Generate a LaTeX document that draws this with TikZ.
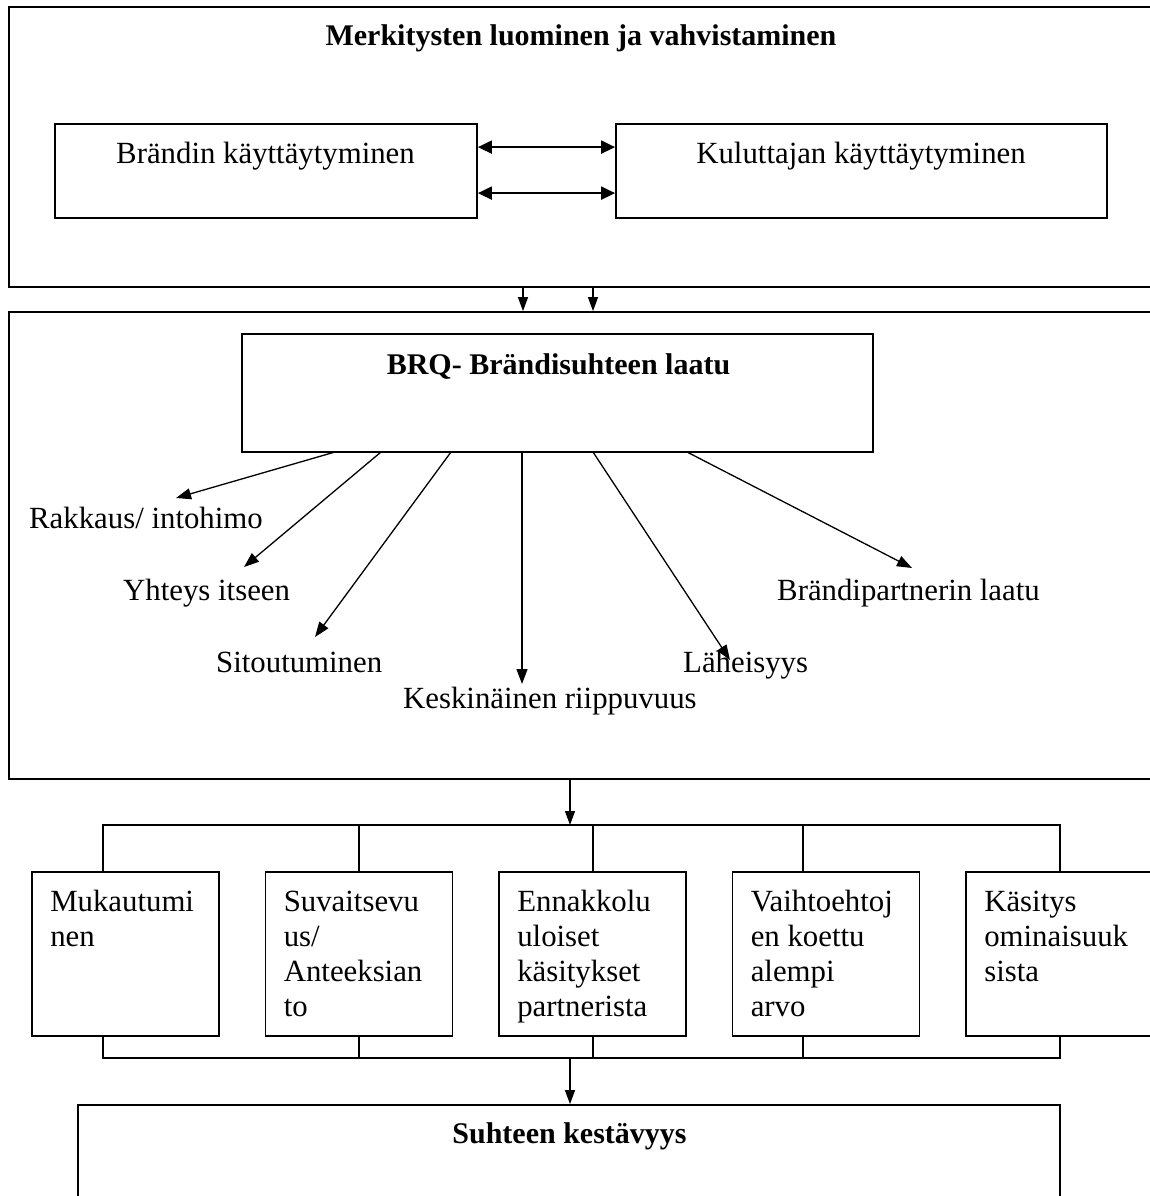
\documentclass[tikz,border=0pt]{standalone}
\usepackage{fontspec}
\setmainfont{Liberation Serif}
\usetikzlibrary{arrows.meta,calc}
\begin{document}
\begin{tikzpicture}[x=1pt,y=-1pt,
  box/.style={draw,line width=1.8pt,rectangle,inner sep=0pt},
  txt/.style={font=\fontsize{30.8}{35}\selectfont,inner sep=0pt},
  btxt/.style={font=\fontsize{30}{35}\selectfont\bfseries,inner sep=0pt},
  spoke/.style={line width=1.3pt,-{Triangle[length=15pt,width=11pt]}},
  dn/.style={line width=1.2pt,-{Triangle[length=14pt,width=10pt]}},
  dbl/.style={line width=2pt,{Triangle[length=14pt,width=13pt]}-{Triangle[length=14pt,width=13pt]}},
  bus/.style={line width=1.2pt}]
\useasboundingbox (0,0) rectangle (1150,1196);
\clip (0,0) rectangle (1150,1196);
\fill[white] (0,0) rectangle (1150,1196);
% outer boxes
\node[box,minimum width=1151pt,minimum height=280pt] (o1) at (584.5,147) {};
\node[box,minimum width=1151pt,minimum height=467pt] (o2) at (584.5,545.5) {};
\node[box,minimum width=422pt,minimum height=94pt] (b1) at (266,171) {};
\node[box,minimum width=491pt,minimum height=94pt] (b2) at (861.5,171) {};
\node[box,minimum width=631pt,minimum height=118pt] (brq) at (557.5,393) {};
\node[box,minimum width=982pt,minimum height=105pt] (fin) at (569,1157.5) {};
\foreach \k/\x in {k1/125.5,k2/359,k3/592.5,k4/826,k5/1059.5}
  \node[box,minimum width=187pt,minimum height=164pt] (\k) at (\x,954) {};
% titles
\node[btxt,anchor=base] (t1) at (581,46) {Merkitysten luominen ja vahvistaminen};
\node[txt,anchor=base] (tb1) at (265.5,163) {Brändin käyttäytyminen};
\node[txt,anchor=base] (tb2) at (861,163) {Kuluttajan käyttäytyminen};
\node[btxt,anchor=base] (tbrq) at (558.5,374) {BRQ- Brändisuhteen laatu};
\node[btxt,anchor=base] (tfin) at (569.5,1143) {Suhteen kestävyys};
% spoke labels
\node[txt,anchor=base west] (l1) at (29,528) {Rakkaus/ intohimo};
\node[txt,anchor=base west] (l2) at (123,600) {Yhteys itseen};
\node[txt,anchor=base west] (l3) at (216,672) {Sitoutuminen};
\node[txt,anchor=base west] (l4) at (403,708) {Keskinäinen riippuvuus};
\node[txt,anchor=base west] (l5) at (683,672) {Läheisyys};
\node[txt,anchor=base west] (l6) at (777,600) {Brändipartnerin laatu};
% box texts
\node[txt,align=left,anchor=north west] (x1) at ($(k1.north west)+(19,15.5)$) {\strut Mukautumi\\nen};
\node[txt,align=left,anchor=north west] (x2) at ($(k2.north west)+(19,15.5)$) {\strut Suvaitsevu\\us/\\Anteeksian\\to};
\node[txt,align=left,anchor=north west] (x3) at ($(k3.north west)+(19,15.5)$) {\strut Ennakkolu\\uloiset\\käsitykset\\partnerista};
\node[txt,align=left,anchor=north west] (x4) at ($(k4.north west)+(19,15.5)$) {\strut Vaihtoehtoj\\en koettu\\alempi\\arvo};
\node[txt,align=left,anchor=north west] (x5) at ($(k5.north west)+(19,15.5)$) {\strut Käsitys\\ominaisuuk\\sista};
% double arrows
\draw[dbl] ($(b1.north east)+(0,24)$) -- ($(b2.north west)+(0,24)$);
\draw[dbl] ($(b1.north east)+(0,70)$) -- ($(b2.north west)+(0,70)$);
% down arrows between outer boxes
\coordinate (xa) at (523,0);
\coordinate (xb) at (593,0);
\coordinate (xm) at (570,0);
\draw[dn] (o1.south -| xa) -- (o2.north -| xa);
\draw[dn] (o1.south -| xb) -- (o2.north -| xb);
% spokes
\coordinate (p1) at (335,452); \coordinate (q1) at (176,498);
\coordinate (p2) at (381,452); \coordinate (q2) at (244,567);
\coordinate (p3) at (451,452); \coordinate (q3) at (315,637);
\coordinate (p4) at (522,452); \coordinate (q4) at (522,684);
\coordinate (p5) at (593,452); \coordinate (q5) at (730,660);
\coordinate (p6) at (687,452); \coordinate (q6) at (912,568);
\foreach \i in {1,...,6} \draw[spoke] (p\i) -- (q\i);
% buses
\coordinate (bl) at (103,825); \coordinate (br) at (1060,825);
\coordinate (bbl) at (103,1058); \coordinate (bbr) at (1060,1058);
\draw[dn] (o2.south -| xm) -- (bl -| xm);
\draw[bus] (bl) -- (br);
\draw[bus] (bbl) -- (bbr);
\foreach \k/\d in {k1/-22.5,k2/0,k3/0.5,k4/-23,k5/0.5}{
  \draw[bus] ($(\k.north)+(\d,0)$) -- ($(\k.north)+(\d,-47)$);
  \draw[bus] ($(\k.south)+(\d,0)$) -- ($(\k.south)+(\d,22)$);
}
\draw[dn] (bbl -| xm) -- (fin.north -| xm);
\end{tikzpicture}
\end{document}
